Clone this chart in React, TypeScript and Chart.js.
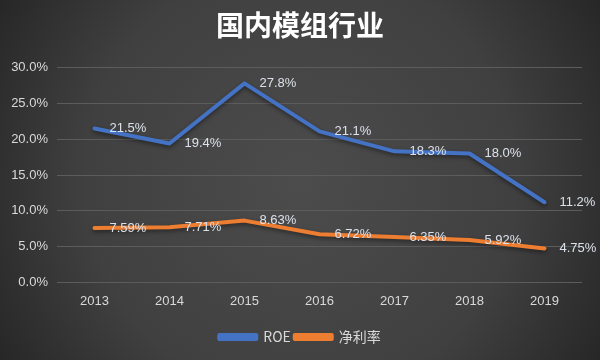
import React, { useEffect, useRef } from "react";
import { Chart, registerables } from "chart.js";

Chart.register(...registerables);

const TITLE = "国内模组行业";
const YEARS = ["2013", "2014", "2015", "2016", "2017", "2018", "2019"];
const ROE = [21.5, 19.4, 27.8, 21.1, 18.3, 18.0, 11.2];
const NET_MARGIN = [7.59, 7.71, 8.63, 6.72, 6.35, 5.92, 4.75];
const SERIES_NAMES = ["ROE", "净利率"];
const LABEL_DECIMALS = [1, 2];

const bgPlugin = {
  id: "bg",
  beforeDraw(chart: any) {
    const { ctx, width, height } = chart;
    ctx.save();
    const g = ctx.createRadialGradient(width / 2, height / 2, 0, width / 2, height / 2, width * 0.6);
    g.addColorStop(0, "#4c4c4c");
    g.addColorStop(0.6, "#404040");
    g.addColorStop(1, "#252525");
    ctx.fillStyle = g;
    ctx.fillRect(0, 0, width, height);
    ctx.restore();
  },
};

const shadowPlugin = {
  id: "lineShadow",
  beforeDatasetsDraw(chart: any) {
    const ctx = chart.ctx;
    ctx.save();
    ctx.shadowColor = "rgba(0,0,0,0.45)";
    ctx.shadowBlur = 4;
    ctx.shadowOffsetY = 2;
  },
  afterDatasetsDraw(chart: any) {
    chart.ctx.restore();
  },
};

const labelPlugin = {
  id: "dataLabels",
  afterDatasetsDraw(chart: any) {
    const ctx = chart.ctx;
    ctx.save();
    ctx.font = '13px "Liberation Sans", Arial, sans-serif';
    ctx.fillStyle = "#dce1ea";
    ctx.textAlign = "left";
    ctx.textBaseline = "middle";
    chart.data.datasets.forEach((ds: any, i: number) => {
      const meta = chart.getDatasetMeta(i);
      meta.data.forEach((pt: any, j: number) => {
        const v = ds.data[j] as number;
        ctx.fillText(v.toFixed(LABEL_DECIMALS[i]) + "%", pt.x + 15, pt.y);
      });
    });
    ctx.restore();
  },
};

export default function App() {
  const ref = useRef<HTMLCanvasElement | null>(null);
  useEffect(() => {
    document.body.style.margin = "0";
    const chart = new Chart(ref.current as HTMLCanvasElement, {
      type: "line",
      data: {
        labels: YEARS,
        datasets: [
          {
            label: SERIES_NAMES[0],
            data: ROE,
            borderColor: "#4472c4",
            backgroundColor: "#4472c4",
            borderWidth: 4,
            pointRadius: 0,
            tension: 0,
            borderCapStyle: "round",
            borderJoinStyle: "round",
          },
          {
            label: SERIES_NAMES[1],
            data: NET_MARGIN,
            borderColor: "#ed7d31",
            backgroundColor: "#ed7d31",
            borderWidth: 4,
            pointRadius: 0,
            tension: 0,
            borderCapStyle: "round",
            borderJoinStyle: "round",
          },
        ],
      },
      options: {
        animation: false,
        responsive: false,
        layout: { padding: { left: 0, right: 0, top: 0, bottom: 6 } },
        plugins: {
          title: {
            display: true,
            text: TITLE,
            color: "#ffffff",
            font: { size: 28, weight: "bold", family: '"Noto Sans CJK SC", sans-serif' },
            padding: { top: 9, bottom: 25 },
          },
          legend: {
            position: "bottom",
            labels: {
              color: "#d9d9d9",
              font: { size: 14, family: '"Noto Sans CJK SC", sans-serif' },
              boxWidth: 37,
              boxHeight: 4,
              padding: 4,
            },
          },
          tooltip: { enabled: false },
        },
        scales: {
          x: {
            offset: true,
            grid: { display: false },
            border: { display: false },
            ticks: {
              color: "#d9d9d9",
              font: { size: 13, family: '"Liberation Sans", Arial, sans-serif' },
              padding: 3,
            },
            afterFit: (s: any) => {
              s.height += 14;
            },
          },
          y: {
            min: 0,
            max: 30,
            ticks: {
              stepSize: 5,
              color: "#d9d9d9",
              font: { size: 13, family: '"Liberation Sans", Arial, sans-serif' },
              callback: (v: any) => Number(v).toFixed(1) + "%",
              padding: 9,
            },
            grid: { color: "#5c5c5c", lineWidth: 1, drawTicks: false },
            border: { display: false },
            afterFit: (s: any) => {
              s.width = 57;
            },
          },
          yRightSpace: {
            position: "right",
            min: 0,
            max: 30,
            ticks: { display: false },
            grid: { display: false, drawTicks: false },
            border: { display: false },
            afterFit: (s: any) => {
              s.width = 18;
            },
          },
        },
      },
      plugins: [bgPlugin, shadowPlugin, labelPlugin],
    });
    return () => chart.destroy();
  }, []);
  return (
    <div style={{ position: "absolute", left: 0, top: 0, width: 600, height: 360 }}>
      <canvas ref={ref} width={600} height={360} style={{ display: "block" }} />
    </div>
  );
}
